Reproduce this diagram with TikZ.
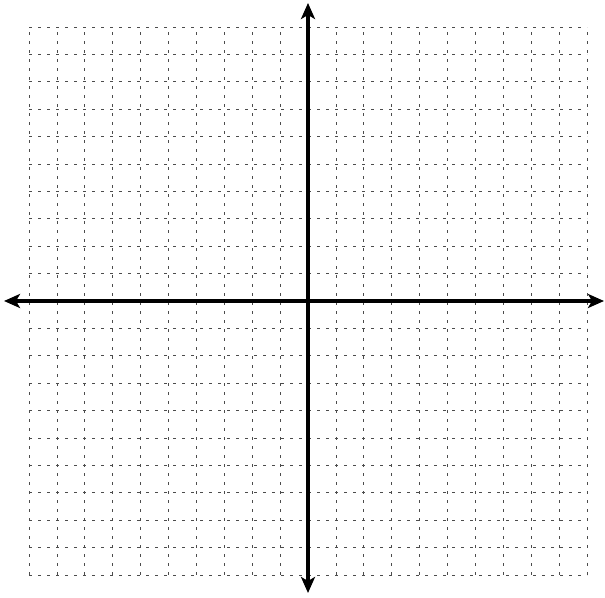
\documentclass[tikz,border=0pt]{standalone}
\usetikzlibrary{arrows.meta,calc}
\begin{document}
\begin{tikzpicture}[x=1pt,y=1pt,
  gridline/.style={black!70,line width=0.7pt,dash pattern=on 3pt off 6pt},
  axisline/.style={black,line width=3.2pt,{Stealth[length=16pt,width=14pt,inset=4pt]}-{Stealth[length=16pt,width=14pt,inset=4pt]}}]
\useasboundingbox (0,0) rectangle (605,597);
% axis origin
\coordinate (O) at (308,296);
% grid
\foreach \k in {-10,...,-1,1,2,...,10}{
  \draw[gridline] ($(O)+(\k*27.9,-274)$) -- ($(O)+(\k*27.9,274)$);
  \draw[gridline] ($(O)+(-279,\k*27.4)$) -- ($(O)+(279,\k*27.4)$);
}
% axes
\coordinate (L) at (4,296);
\coordinate (R) at (604,296);
\coordinate (T) at (308,594);
\coordinate (B) at (308,4);
\draw[axisline] (L) -- (R);
\draw[axisline] (B) -- (T);
\end{tikzpicture}
\end{document}
